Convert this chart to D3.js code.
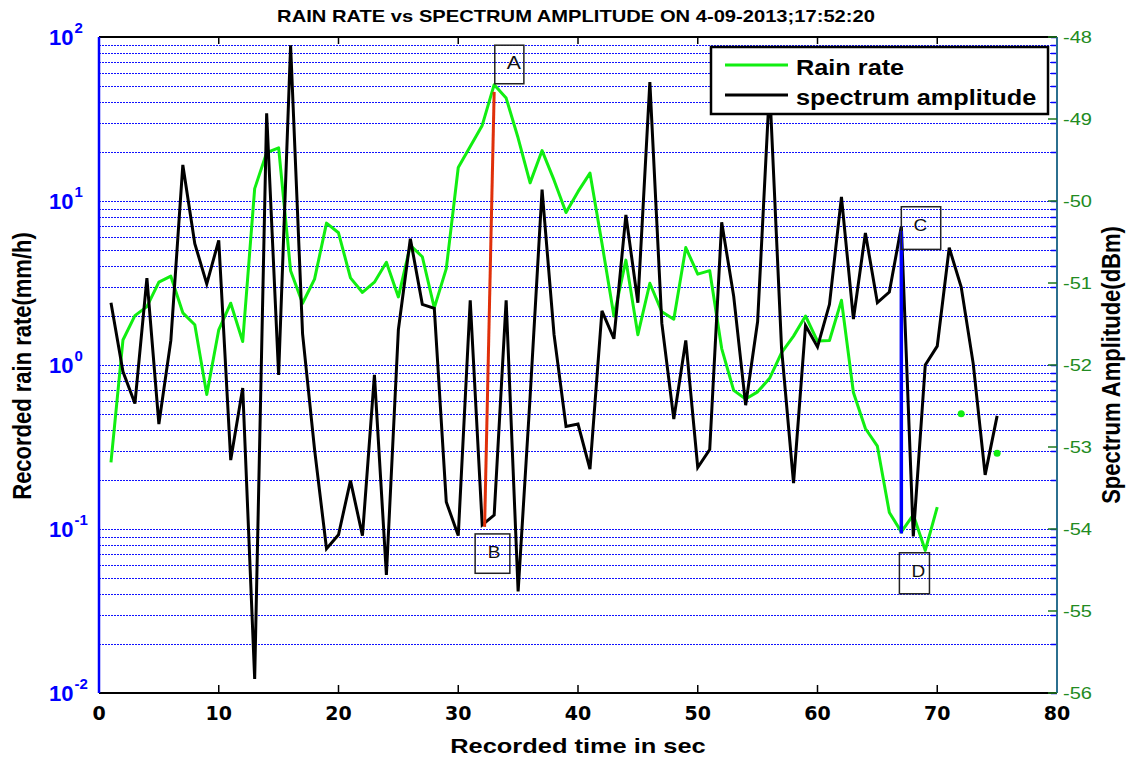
<!DOCTYPE html>
<html>
<head>
<meta charset="utf-8">
<script src="https://cdn.jsdelivr.net/npm/d3@7"></script>
<style>
  body { margin: 0; background: #fff; }
  svg { display: block; }
</style>
</head>
<body>
<script>
/* --------------------------------------------------------------------------------- */
// data
var seconds = [1,2,3,4,5,6,7,8,9,10,11,12,13,14,15,16,17,18,19,20,
               21,22,23,24,25,26,27,28,29,30,31,32,33,34,35,36,37,38,39,40,
               41,42,43,44,45,46,47,48,49,50,51,52,53,54,55,56,57,58,59,60,
               61,62,63,64,65,66,67,68,69,70,71,72,73,74,75];

// rain rate (mm/h), left log axis; null = no sample
var rainRate = [0.255,1.42,2.0,2.27,3.2,3.48,2.08,1.76,0.66,1.64,
                2.38,1.39,11.9,19.7,21.1,3.76,2.38,3.34,7.33,6.4,
                3.4,2.77,3.2,4.23,2.6,5.36,4.57,2.23,3.87,16.0,
                21.5,28.9,51.2,42.4,24.2,12.9,20.3,13.4,8.5,11.4,
                14.8,5.52,1.99,4.36,1.53,3.15,2.11,1.9,5.2,3.58,
                3.76,1.26,0.70,0.62,0.686,0.83,1.19,1.50,1.99,1.40,
                1.41,2.48,0.68,0.41,0.32,0.126,0.096,0.122,0.074,0.136,
                null,0.504,null,null,0.29];

// spectrum amplitude (dBm), right axis
var spectrumAmp = [-51.24,-52.08,-52.47,-50.94,-52.72,-51.70,-49.56,-50.52,-51.01,-50.48,
                   -53.16,-52.28,-55.83,-48.93,-52.12,-48.10,-51.62,-53.03,-54.24,-54.07,
                   -53.41,-54.08,-52.12,-54.56,-51.57,-50.46,-51.26,-51.31,-53.67,-54.08,
                   -51.21,-53.95,-53.83,-51.21,-54.76,-52.39,-49.86,-51.63,-52.75,-52.72,
                   -53.27,-51.34,-51.68,-50.17,-51.24,-48.55,-51.49,-52.66,-51.70,-53.25,
                   -53.03,-50.26,-51.16,-52.49,-51.47,-48.60,-51.80,-53.44,-51.52,-51.78,
                   -51.26,-49.95,-51.44,-50.39,-51.24,-51.11,-50.31,-54.09,-52.00,-51.77,
                   -50.57,-51.05,-51.98,-53.34,-52.62];

var xTicks = [0,10,20,30,40,50,60,70,80];
var decadeExp = [-2,-1,0,1,2];
var dbmTicks = [-48,-49,-50,-51,-52,-53,-54,-55,-56];

// marker lines (time, rain rate)
var markAB = [[33, 46.3], [32.2, 0.103]];
var markCD = [[67, 6.59], [67, 0.094]];

// text boxes (time span, dBm span)
var boxLabels = ["A", "B", "C", "D"];
var boxX0 = [33.05, 31.41, 67.0, 66.84];
var boxX1 = [35.48, 34.31, 70.29, 69.35];
var boxTop = [-48.10, -54.06, -50.07, -54.29];
var boxBottom = [-48.57, -54.54, -50.59, -54.79];

var seriesNames = ["Rain rate", "spectrum amplitude"];
/* --------------------------------------------------------------------------------- */

draw_chart();

function draw_chart()
{
  var W = 1126, H = 757;
  var m = { left: 99, right: 1057, top: 37, bottom: 693 };
  var FONT = "'Liberation Sans', Arial, sans-serif";

  var svg = d3.select("body").append("svg")
      .attr("width", W).attr("height", H)
      .style("font-family", FONT);

  var x = d3.scaleLinear().domain([0, 80]).range([m.left, m.right]);
  var yL = d3.scaleLog().domain([0.01, 100]).range([m.bottom, m.top]);
  var yR = d3.scaleLinear().domain([-56, -48]).range([m.bottom, m.top]);

  // horizontally stretched text helper
  function stext(g, tx, ty, sx, str) {
    return g.append("text")
      .attr("transform", "translate(" + tx + "," + ty + ") scale(" + sx + ",1)")
      .text(str);
  }

  // ==========================================================
  // log grid (dotted blue)
  var gridVals = yL.ticks();
  svg.append("g").selectAll("line")
      .data(gridVals)
      .enter().append("line")
      .attr("x1", m.left).attr("x2", m.right)
      .attr("y1", function(d) { return Math.round(yL(d)) + 0.5; })
      .attr("y2", function(d) { return Math.round(yL(d)) + 0.5; })
      .attr("stroke", "#1010ff")
      .attr("stroke-width", 1)
      .attr("shape-rendering", "crispEdges")
      .attr("stroke-dasharray", "2,1");

  // short blue ticks on the right side
  svg.append("g").selectAll("line")
      .data(gridVals)
      .enter().append("line")
      .attr("x1", m.right - 6).attr("x2", m.right)
      .attr("y1", function(d) { return Math.round(yL(d)) + 0.5; })
      .attr("y2", function(d) { return Math.round(yL(d)) + 0.5; })
      .attr("stroke", "#0000ff").attr("stroke-width", 1.5);

  // ==========================================================
  // frame
  svg.append("line").attr("x1", m.left).attr("x2", m.right).attr("y1", m.top).attr("y2", m.top)
      .attr("stroke", "#000").attr("stroke-width", 2);
  svg.append("line").attr("x1", m.left).attr("x2", m.right).attr("y1", m.bottom).attr("y2", m.bottom)
      .attr("stroke", "#000").attr("stroke-width", 2);

  // x ticks top and bottom
  var xt = svg.append("g");
  xt.selectAll(".tb").data(xTicks).enter().append("line")
      .attr("x1", function(d) { return x(d); }).attr("x2", function(d) { return x(d); })
      .attr("y1", m.bottom).attr("y2", m.bottom - 8)
      .attr("stroke", "#000").attr("stroke-width", 1.5);
  xt.selectAll(".tt").data(xTicks).enter().append("line")
      .attr("x1", function(d) { return x(d); }).attr("x2", function(d) { return x(d); })
      .attr("y1", m.top).attr("y2", m.top + 7)
      .attr("stroke", "#000").attr("stroke-width", 1.5);

  xTicks.forEach(function(d) {
    stext(svg, x(d), 720, 1.0, d)
      .attr("text-anchor", "middle")
      .style("font-family", "'DejaVu Sans', sans-serif")
      .attr("font-size", 19).attr("font-weight", "bold").attr("fill", "#000");
  });

  // left axis line + decade labels
  svg.append("line").attr("x1", m.left).attr("x2", m.left).attr("y1", m.top).attr("y2", m.bottom)
      .attr("stroke", "#0000ff").attr("stroke-width", 2.5);

  decadeExp.forEach(function(e) {
    var t = svg.append("text")
        .attr("x", 49).attr("y", yL(Math.pow(10, e)) + 8)
        .attr("fill", "#0000ff").attr("font-weight", "bold").attr("font-size", 22);
    t.append("tspan").text("10");
    t.append("tspan").attr("dy", -12).attr("dx", 1).attr("font-size", 15).text(e);
  });

  // right axis line + dBm labels
  svg.append("line").attr("x1", m.right).attr("x2", m.right).attr("y1", m.top).attr("y2", m.bottom)
      .attr("stroke", "#2b6f8f").attr("stroke-width", 2);

  svg.append("g").selectAll("line")
      .data(dbmTicks)
      .enter().append("line")
      .attr("x1", m.right - 9).attr("x2", m.right)
      .attr("y1", function(d) { return yR(d); })
      .attr("y2", function(d) { return yR(d); })
      .attr("stroke", "#1f7a1f").attr("stroke-width", 1.5);

  dbmTicks.forEach(function(d) {
    stext(svg, 1063, yR(d) + 6, 1.18, d)
      .attr("font-size", 17).attr("fill", "#228b22");
  });

  // ==========================================================
  // series
  var greenLine = d3.line()
      .defined(function(d, i) { return rainRate[i] != null; })
      .x(function(d) { return x(d); })
      .y(function(d, i) { return yL(rainRate[i]); });

  svg.append("path")
      .attr("d", greenLine(seconds))
      .attr("fill", "none")
      .attr("stroke", "#11ee11")
      .attr("stroke-width", 3)
      .attr("stroke-linejoin", "round");

  // isolated samples
  svg.append("g").selectAll("circle")
      .data(seconds.filter(function(d, i) {
        return rainRate[i] != null && rainRate[i - 1] == null && rainRate[i + 1] == null;
      }))
      .enter().append("circle")
      .attr("cx", function(d) { return x(d); })
      .attr("cy", function(d) { return yL(rainRate[seconds.indexOf(d)]); })
      .attr("r", 3.5)
      .attr("fill", "#11ee11");

  var blackLine = d3.line()
      .x(function(d) { return x(d); })
      .y(function(d, i) { return yR(spectrumAmp[i]); });

  svg.append("path")
      .attr("d", blackLine(seconds))
      .attr("fill", "none")
      .attr("stroke", "#000")
      .attr("stroke-width", 3)
      .attr("stroke-linejoin", "miter");

  // marker lines
  var markLine = d3.line()
      .x(function(d) { return x(d[0]); })
      .y(function(d) { return yL(d[1]); });

  svg.append("path").attr("d", markLine(markAB))
      .attr("stroke", "#e0300a").attr("stroke-width", 3).attr("fill", "none");
  svg.append("path").attr("d", markLine(markCD))
      .attr("stroke", "#0000ff").attr("stroke-width", 3.5).attr("fill", "none");

  // ==========================================================
  // text boxes
  boxLabels.forEach(function(lab, i) {
    var bx = x(boxX0[i]), by = yR(boxTop[i]);
    svg.append("rect")
        .attr("x", bx).attr("y", by)
        .attr("width", x(boxX1[i]) - bx)
        .attr("height", yR(boxBottom[i]) - by)
        .attr("fill", "none")
        .attr("stroke", "#222").attr("stroke-width", 1.5);
    stext(svg, bx + 19, by + 24, 1.12, lab)
        .attr("text-anchor", "middle")
        .attr("font-size", lab == "A" ? 19 : 17)
        .attr("fill", "#111");
  });

  // ==========================================================
  // legend
  var lg = svg.append("g");
  lg.append("rect")
      .attr("x", 711).attr("y", 47).attr("width", 337).attr("height", 67)
      .attr("fill", "#fff").attr("stroke", "#000").attr("stroke-width", 2.5);
  lg.append("line").attr("x1", 725).attr("x2", 788).attr("y1", 65).attr("y2", 65)
      .attr("stroke", "#11ee11").attr("stroke-width", 3);
  lg.append("line").attr("x1", 725).attr("x2", 788).attr("y1", 95).attr("y2", 95)
      .attr("stroke", "#000").attr("stroke-width", 3);
  stext(lg, 796, 75, 1.15, seriesNames[0]).attr("font-size", 22).attr("font-weight", "bold");
  stext(lg, 796, 105, 1.15, seriesNames[1]).attr("font-size", 22).attr("font-weight", "bold");

  // ==========================================================
  // titles
  stext(svg, 576, 22, 1.26, "RAIN RATE vs SPECTRUM AMPLITUDE ON 4-09-2013;17:52:20")
      .attr("text-anchor", "middle").attr("font-size", 16).attr("font-weight", "bold");

  stext(svg, 578, 753, 1.21, "Recorded time in sec")
      .attr("text-anchor", "middle").attr("font-size", 21).attr("font-weight", "bold");

  svg.append("text")
      .attr("transform", "translate(31,366) scale(1.15,1) rotate(-90)")
      .attr("text-anchor", "middle").attr("font-size", 22).attr("font-weight", "bold")
      .text("Recorded rain rate(mm/h)");

  svg.append("text")
      .attr("transform", "translate(1120,365) scale(1.15,1) rotate(-90)")
      .attr("text-anchor", "middle").attr("font-size", 22).attr("font-weight", "bold")
      .text("Spectrum Amplitude(dBm)");
}
</script>
</body>
</html>
